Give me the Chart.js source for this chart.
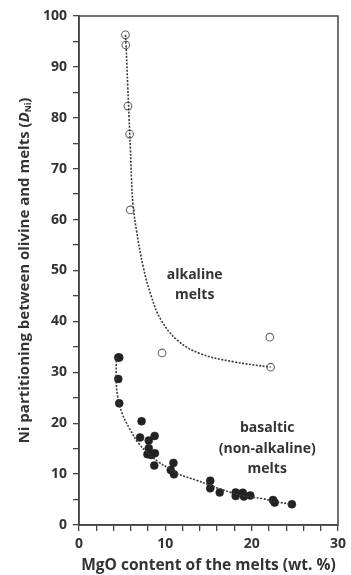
<!DOCTYPE html>
<html>
<head>
<meta charset="utf-8">
<script src="https://cdn.jsdelivr.net/npm/chart.js@4.4.1/dist/chart.umd.min.js"></script>
<style>
    html, body { margin: 0; padding: 0; background: #fff; }
    #wrap { width: 351px; height: 575px; position: relative; }
</style>
</head>
<body>
<div id="wrap"><canvas id="niChart"></canvas></div>
<script>
// Ni partitioning between olivine and melts vs MgO
const alkalineMgO = [5.38, 5.42, 5.67, 5.86, 5.94, 9.62, 22.1, 22.2];
const alkalineD   = [96.3, 94.3, 82.3, 76.8, 61.9, 33.8, 36.9, 31.0];

const basalticMgO = [4.55, 4.66, 4.55, 4.66, 7.25, 7.07, 8.08, 8.76, 8.08, 7.93, 8.38, 8.79, 8.72,
                     10.94, 10.63, 11.0, 15.2, 15.2, 16.3, 18.15, 18.15, 18.97, 19.1, 19.84, 22.47, 22.66, 24.66];
const basalticD   = [32.9, 32.9, 28.7, 23.9, 20.4, 17.2, 16.6, 17.5, 15.1, 13.9, 13.75, 14.1, 11.7,
                     12.2, 10.8, 9.95, 8.7, 7.2, 6.4, 6.4, 5.7, 6.35, 5.6, 5.8, 4.9, 4.4, 4.07];

// trend curves
const alkalineCurveMgO = [5.38, 5.45, 5.65, 5.8, 5.95, 6.08, 6.25, 6.65, 7.44, 8.38, 9.5, 11.4, 14.0, 17.8, 22.2];
const alkalineCurveD   = [96.3, 94.3, 86.0, 80.0, 74.0, 68.0, 63.0, 58.0, 50.7, 44.9, 40.3, 36.3, 33.7, 32.1, 31.0];

const basalticCurveMgO = [4.35, 4.3, 4.45, 5.0, 5.94, 6.88, 8.0, 9.2, 10.45, 11.5, 13.6, 15.2, 16.65, 18.9, 21.2, 22.7, 24.66];
const basalticCurveD   = [33.0, 30.0, 25.5, 21.9, 18.7, 16.1, 14.1, 12.4, 11.1, 10.0, 8.8, 7.8, 6.9, 5.8, 5.2, 4.6, 4.07];

const xTicksLabelEvery = 10;
const yTicksLabelEvery = 10;

const TEXT = '#333';
const AXIS = '#444';
const FONT = '"Open Sans", "DejaVu Sans", sans-serif';

const toPoints = (xs, ys) => xs.map((x, i) => ({ x, y: ys[i] }));

// frame, y title and region labels
const extrasPlugin = {
    id: 'extras',
    afterDraw(chart) {
        const { ctx, chartArea: a, scales } = chart;
        ctx.save();
        ctx.strokeStyle = AXIS;
        ctx.lineWidth = 1.5;
        ctx.strokeRect(a.left, a.top, a.right - a.left, a.bottom - a.top);

        // region labels
        ctx.fillStyle = TEXT;
        ctx.font = 'bold 14px ' + FONT;
        ctx.textAlign = 'center';
        ctx.textBaseline = 'middle';
        const label = (lines, x, y0, dy) => {
            lines.forEach((t, i) => {
                ctx.fillText(t, scales.x.getPixelForValue(x), scales.y.getPixelForValue(y0) + i * dy);
            });
        };
        label(['alkaline', 'melts'], 13.4, 49.1, 20);
        label(['basaltic', '(non-alkaline)', 'melts'], 21.8, 19.0, 20.5);

        // y title with italic D and subscript Ni
        const parts = [
            { t: 'Ni partitioning between olivine and melts (', f: 'bold 15px ' + FONT, dy: 0 },
            { t: 'D', f: 'italic bold 15px ' + FONT, dy: 0 },
            { t: 'Ni', f: 'bold 8.5px ' + FONT, dy: 3.5 },
            { t: ')', f: 'bold 15px ' + FONT, dy: 0 }
        ];
        let total = 0;
        parts.forEach(p => { ctx.font = p.f; p.w = ctx.measureText(p.t).width; total += p.w; });
        ctx.translate(25, (a.top + a.bottom) / 2);
        ctx.rotate(-Math.PI / 2);
        ctx.textAlign = 'left';
        let x = -total / 2;
        parts.forEach(p => {
            ctx.font = p.f;
            ctx.fillText(p.t, x, p.dy);
            x += p.w;
        });
        ctx.restore();
    }
};

document.addEventListener('DOMContentLoaded', () => {
    const ctx = document.getElementById('niChart').getContext('2d');

    new Chart(ctx, {
        type: 'scatter',
        data: {
            datasets: [
                {
                    label: 'alkaline trend',
                    type: 'line',
                    data: toPoints(alkalineCurveMgO, alkalineCurveD),
                    borderColor: '#3a3a3a', borderWidth: 1.6, borderDash: [2, 1.5],
                    pointRadius: 0, tension: 0.4, fill: false
                },
                {
                    label: 'basaltic trend',
                    type: 'line',
                    data: toPoints(basalticCurveMgO, basalticCurveD),
                    borderColor: '#3a3a3a', borderWidth: 1.6, borderDash: [2, 1.5],
                    pointRadius: 0, tension: 0.4, fill: false
                },
                {
                    label: 'alkaline melts',
                    data: toPoints(alkalineMgO, alkalineD),
                    pointRadius: 3.8, pointBackgroundColor: '#fff',
                    pointBorderColor: '#666', pointBorderWidth: 1.1
                },
                {
                    label: 'basaltic melts',
                    data: toPoints(basalticMgO, basalticD),
                    pointRadius: 4, pointBackgroundColor: '#222',
                    pointBorderColor: '#222', pointBorderWidth: 0.5
                }
            ]
        },
        options: {
            responsive: true, maintainAspectRatio: false, animation: false,
            layout: { padding: { top: 16, right: 6, left: 0, bottom: 0 } },
            plugins: { legend: { display: false }, tooltip: { enabled: false } },
            scales: {
                x: {
                    type: 'linear', min: 0, max: 30,
                    afterFit: s => { s.height = 50; },
                    ticks: {
                        stepSize: 2, autoSkip: false, maxRotation: 0, padding: 5,
                        color: TEXT, font: { family: FONT, size: 14, weight: 'bold' },
                        callback: v => v % xTicksLabelEvery === 0 ? v : ''
                    },
                    grid: { drawOnChartArea: false, tickLength: 6, color: AXIS, lineWidth: 1.3 },
                    border: { color: AXIS, width: 1.5 },
                    title: {
                        display: true, text: 'MgO content of the melts (wt. %)',
                        color: TEXT, font: { family: FONT, size: 15.5, weight: 'bold' }, padding: 0
                    }
                },
                y: {
                    type: 'linear', min: 0, max: 100,
                    afterFit: s => { s.width = 79; },
                    ticks: {
                        stepSize: 5, autoSkip: false, padding: 6,
                        color: TEXT, font: { family: FONT, size: 14, weight: 'bold' },
                        callback: v => v % yTicksLabelEvery === 0 ? v : ''
                    },
                    grid: { drawOnChartArea: false, tickLength: 6, color: AXIS, lineWidth: 1.3 },
                    border: { color: AXIS, width: 1.5 }
                }
            }
        },
        plugins: [extrasPlugin]
    });
});
</script>
</body>
</html>
